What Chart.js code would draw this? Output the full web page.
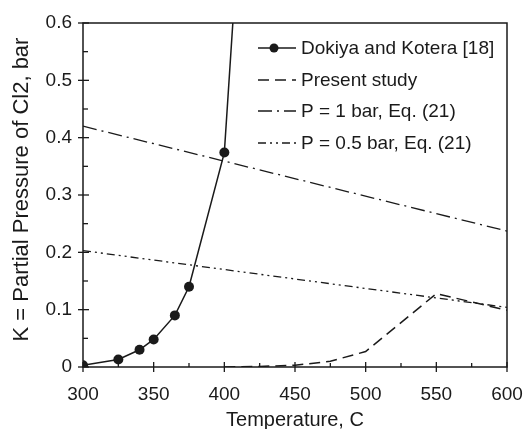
<!DOCTYPE html>
<html><head><meta charset="utf-8">
<script src="https://cdn.jsdelivr.net/npm/chart.js@4/dist/chart.umd.min.js"></script>
<style>html,body{margin:0;padding:0;background:#fff;}#wrap{width:525px;height:429px;}</style>
</head><body><div id="wrap"><canvas id="c" width="525" height="429"></canvas></div>
<script>
const dokiyaT = [300, 325, 340, 350, 365, 375, 400, 410];
const dokiyaK = [0.003, 0.013, 0.030, 0.048, 0.090, 0.140, 0.374, 0.75];
const presentT = [400, 425, 450, 475, 500, 550, 600];
const presentK = [0.0, 0.001, 0.003, 0.010, 0.027, 0.128, 0.099];
const p1T = [300, 600];
const p1K = [0.42, 0.237];
const p05T = [300, 600];
const p05K = [0.203, 0.104];
const xTicks = [300, 350, 400, 450, 500, 550, 600];
const yTicks = [0, 0.1, 0.2, 0.3, 0.4, 0.5, 0.6];
const labels = ['Dokiya and Kotera [18]', 'Present study', 'P = 1 bar, Eq. (21)', 'P = 0.5 bar, Eq. (21)'];

const toXY = (xs, ys) => xs.map((x, i) => ({x, y: ys[i]}));
const INK = '#1a1a1a';
const FONT = "Arial, 'Liberation Sans', sans-serif";

const axisPlugin = {
  id: 'axisDeco',
  afterDraw(chart) {
    const {ctx, chartArea: a, scales: {x, y}} = chart;
    ctx.save();
    ctx.strokeStyle = INK;
    ctx.lineWidth = 1.5;
    ctx.strokeRect(a.left, a.top, a.right - a.left, a.bottom - a.top);
    ctx.lineWidth = 1.3;
    for (let v = 300; v <= 600; v += 25) {
      const px = x.getPixelForValue(v);
      const major = v % 50 === 0;
      ctx.beginPath();
      ctx.moveTo(px, a.bottom + (major ? 5 : 0));
      ctx.lineTo(px, a.bottom - (major ? 5 : 4));
      ctx.stroke();
    }
    for (let i = 0; i <= 12; i++) {
      const v = i * 0.05;
      const py = y.getPixelForValue(v);
      const major = i % 2 === 0;
      ctx.beginPath();
      ctx.moveTo(a.left - (major ? 5 : 0), py);
      ctx.lineTo(a.left + (major ? 6 : 5), py);
      ctx.stroke();
    }
    const lx0 = 258, lx1 = 296, tx = 301;
    const rows = [48, 80, 111, 143];
    ctx.font = '19px ' + FONT;
    ctx.textBaseline = 'middle';
    ctx.fillStyle = INK;
    chart.data.datasets.forEach((ds, i) => {
      const yy = rows[i];
      ctx.beginPath();
      ctx.setLineDash(ds.borderDash || []);
      ctx.lineWidth = ds.borderWidth;
      ctx.strokeStyle = INK;
      ctx.moveTo(lx0, yy);
      ctx.lineTo(lx1, yy);
      ctx.stroke();
      ctx.setLineDash([]);
      if (i === 0) {
        ctx.beginPath();
        ctx.arc(274, yy, 4.5, 0, Math.PI * 2);
        ctx.fill();
      }
      ctx.fillText(ds.label, tx, yy + 1);
    });
    ctx.restore();
  }
};

new Chart(document.getElementById('c'), {
  type: 'line',
  data: {
    datasets: [
      {label: labels[0], data: toXY(dokiyaT, dokiyaK), borderColor: INK, backgroundColor: INK, borderWidth: 1.5,
       pointRadius: dokiyaT.map((t, i) => i === dokiyaT.length - 1 ? 0 : 5), pointBackgroundColor: INK, pointBorderWidth: 0, tension: 0},
      {label: labels[1], data: toXY(presentT, presentK), borderColor: INK, borderWidth: 1.5, borderDash: [11, 6], pointRadius: 0, tension: 0},
      {label: labels[2], data: toXY(p1T, p1K), borderColor: INK, borderWidth: 1.3, borderDash: [14, 5, 2, 5], pointRadius: 0},
      {label: labels[3], data: toXY(p05T, p05K), borderColor: INK, borderWidth: 1.3, borderDash: [8, 4, 2, 4, 2, 4], pointRadius: 0}
    ]
  },
  options: {
    responsive: false,
    animation: false,
    layout: {padding: {top: 23, right: 18, left: 0, bottom: 0}},
    plugins: {legend: {display: false}, tooltip: {enabled: false}},
    scales: {
      x: {
        type: 'linear', min: 300, max: 600,
        afterBuildTicks: s => { s.ticks = xTicks.map(v => ({value: v})); },
        afterFit: s => { s.height = 62; s.paddingLeft = 0; s.paddingRight = 0; },
        grid: {display: false, drawTicks: false},
        border: {display: false},
        ticks: {color: INK, font: {family: FONT, size: 19}, padding: 16, maxRotation: 0},
        title: {display: true, text: 'Temperature, C', color: INK, font: {family: FONT, size: 20}, padding: {top: 0, bottom: -3}}
      },
      y: {
        type: 'linear', min: 0, max: 0.6,
        afterBuildTicks: s => { s.ticks = yTicks.map(v => ({value: v})); },
        afterFit: s => { s.width = 83; s.paddingTop = 0; s.paddingBottom = 0; },
        grid: {display: false, drawTicks: false},
        border: {display: false},
        ticks: {color: INK, font: {family: FONT, size: 19}, padding: 11, callback: v => String(Math.round(v * 10) / 10)},
        title: {display: true, text: '\u2002K = Partial Pressure of Cl2, bar', color: INK, font: {family: FONT, size: 22}, padding: {top: 9, bottom: 0}}
      }
    }
  },
  plugins: [axisPlugin]
});
</script></body></html>
